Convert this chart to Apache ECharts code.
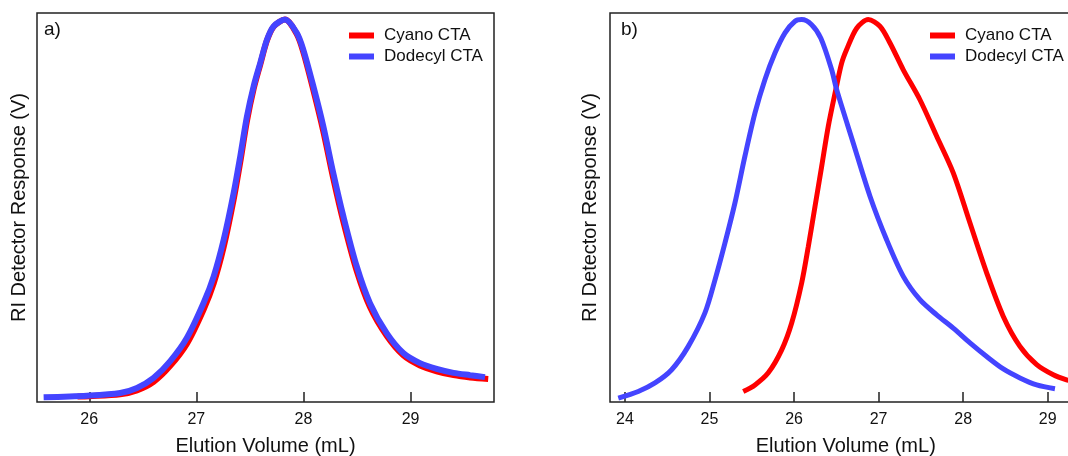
<!DOCTYPE html>
<html>
<head>
<meta charset="utf-8">
<script src="https://cdn.jsdelivr.net/npm/echarts@6/dist/echarts.min.js"></script>
<style>
  html, body { margin: 0; padding: 0; background: #fff; }
  #chart { width: 1068px; height: 456px; }
</style>
</head>
<body>
<div id="chart"></div>
<script>
// panel a) — both CTAs overlap almost exactly
var cyanoA = [
  [25.89, 0.014], [26.0, 0.015], [26.289, 0.020], [26.445, 0.030], [26.601, 0.052],
  [26.756, 0.093], [26.912, 0.150], [27.068, 0.238], [27.162, 0.305], [27.255, 0.398],
  [27.348, 0.520], [27.41, 0.617], [27.472, 0.722], [27.535, 0.805], [27.597, 0.868],
  [27.659, 0.929], [27.722, 0.965], [27.827, 0.983], [27.937, 0.946], [27.998, 0.900],
  [28.092, 0.802], [28.185, 0.696], [28.278, 0.575], [28.372, 0.464], [28.497, 0.337],
  [28.621, 0.244], [28.777, 0.170], [28.932, 0.120], [29.088, 0.094], [29.244, 0.079],
  [29.401, 0.069], [29.556, 0.063], [29.725, 0.059]
];
var dodecylA = [
  [25.574, 0.012], [25.979, 0.016], [26.289, 0.023], [26.445, 0.036], [26.601, 0.062],
  [26.756, 0.105], [26.912, 0.165], [27.068, 0.255], [27.162, 0.323], [27.255, 0.417],
  [27.348, 0.537], [27.41, 0.632], [27.472, 0.734], [27.535, 0.812], [27.597, 0.872],
  [27.659, 0.931], [27.722, 0.966], [27.827, 0.983], [27.937, 0.949], [27.998, 0.906],
  [28.092, 0.812], [28.185, 0.709], [28.278, 0.589], [28.372, 0.478], [28.497, 0.349],
  [28.621, 0.254], [28.777, 0.177], [28.932, 0.126], [29.088, 0.100], [29.244, 0.085],
  [29.401, 0.075], [29.556, 0.069], [29.695, 0.064]
];

// panel b)
var cyanoB = [
  [25.399, 0.027], [25.538, 0.044], [25.695, 0.075], [25.854, 0.134], [25.972, 0.203],
  [26.09, 0.306], [26.169, 0.400], [26.248, 0.503], [26.327, 0.606], [26.405, 0.709],
  [26.494, 0.803], [26.563, 0.871], [26.622, 0.906], [26.741, 0.961], [26.878, 0.983],
  [27.016, 0.966], [27.135, 0.923], [27.292, 0.854], [27.489, 0.777], [27.687, 0.683],
  [27.883, 0.589], [28.081, 0.460], [28.278, 0.332], [28.475, 0.220], [28.672, 0.143],
  [28.87, 0.096], [29.066, 0.070], [29.223, 0.057], [29.35, 0.050]
];
var dodecylB = [
  [23.921, 0.010], [24.157, 0.027], [24.355, 0.049], [24.552, 0.083], [24.749, 0.143],
  [24.946, 0.229], [25.065, 0.314], [25.183, 0.409], [25.301, 0.512], [25.419, 0.632],
  [25.538, 0.743], [25.656, 0.829], [25.774, 0.897], [25.893, 0.949], [26.011, 0.979],
  [26.09, 0.983], [26.208, 0.970], [26.317, 0.935], [26.445, 0.854], [26.504, 0.803],
  [26.7, 0.666], [26.898, 0.529], [27.095, 0.417], [27.292, 0.323], [27.489, 0.263],
  [27.687, 0.224], [27.883, 0.190], [28.081, 0.152], [28.278, 0.117], [28.475, 0.085],
  [28.672, 0.062], [28.87, 0.044], [29.086, 0.034]
];

var seriesNames = ["Cyano CTA", "Dodecyl CTA"];
var panelLabels = ["a)", "b)"];
var xRangeA = [25.512, 29.779];
var xRangeB = [23.823, 29.4];

var RED = "#ff0000", BLUE = "#4444ff";
var FONT = "Liberation Sans, Arial, sans-serif";

function xAxisFor(idx, range, nameGap) {
  return {
    type: "value", gridIndex: idx, min: range[0], max: range[1],
    minInterval: 1, maxInterval: 1,
    name: "Elution Volume (mL)", nameLocation: "middle", nameGap: nameGap,
    nameTextStyle: { color: "#111", fontSize: 20, fontFamily: FONT },
    axisLine: { show: false },
    axisTick: { inside: true, length: 10, lineStyle: { color: "#222", width: 1.5 } },
    splitLine: { show: false },
    axisLabel: {
      color: "#111", fontSize: 16, fontFamily: FONT, margin: 10,
      showMinLabel: false, showMaxLabel: false,
      formatter: function (v) { return Math.abs(v - Math.round(v)) < 1e-6 ? String(Math.round(v)) : ""; }
    }
  };
}

function yAxisFor(idx, nameGap) {
  return {
    type: "value", gridIndex: idx, min: 0, max: 1,
    name: "RI Detector Response (V)", nameLocation: "middle", nameGap: nameGap,
    nameTextStyle: { color: "#111", fontSize: 20, fontFamily: FONT },
    axisLine: { show: false }, axisTick: { show: false },
    axisLabel: { show: false }, splitLine: { show: false }
  };
}

function line(name, data, idx, color, width) {
  return {
    name: name, type: "line", xAxisIndex: idx, yAxisIndex: idx,
    data: data, showSymbol: false, smooth: 0.3,
    lineStyle: { color: color, width: width }, itemStyle: { color: color },
    z: 3
  };
}

function legendAt(left) {
  return {
    data: seriesNames, orient: "vertical", left: left, top: 22,
    icon: "rect", itemWidth: 25, itemHeight: 6, itemGap: 4,
    selectedMode: false,
    textStyle: { color: "#111", fontSize: 17, fontFamily: FONT, lineHeight: 17, padding: [0, 0, 0, 5] }
  };
}

var chart = echarts.init(document.getElementById("chart"), null, { renderer: "canvas" });
chart.setOption({
  animation: false,
  backgroundColor: "#fff",
  title: [
    { text: panelLabels[0], left: 44, top: 20, padding: 0, textStyle: { fontSize: 19, fontWeight: "normal", color: "#111", fontFamily: FONT } },
    { text: panelLabels[1], left: 621, top: 20, padding: 0, textStyle: { fontSize: 19, fontWeight: "normal", color: "#111", fontFamily: FONT } }
  ],
  legend: [legendAt(344), legendAt(925)],
  grid: [
    { left: 37, top: 13, width: 457, height: 389, outerBoundsMode: "none", containLabel: false,
      show: true, borderColor: "#222", borderWidth: 1.5, backgroundColor: "transparent" },
    { left: 610, top: 13, width: 471.5, height: 389, outerBoundsMode: "none", containLabel: false,
      show: true, borderColor: "#222", borderWidth: 1.5, backgroundColor: "transparent" }
  ],
  xAxis: [xAxisFor(0, xRangeA, 34), xAxisFor(1, xRangeB, 34)],
  yAxis: [yAxisFor(0, 8), yAxisFor(1, 10)],
  series: [
    line(seriesNames[0], cyanoA, 0, RED, 6),
    line(seriesNames[1], dodecylA, 0, BLUE, 6),
    line(seriesNames[0], cyanoB, 1, RED, 5),
    line(seriesNames[1], dodecylB, 1, BLUE, 5)
  ]
});
</script>
</body>
</html>
